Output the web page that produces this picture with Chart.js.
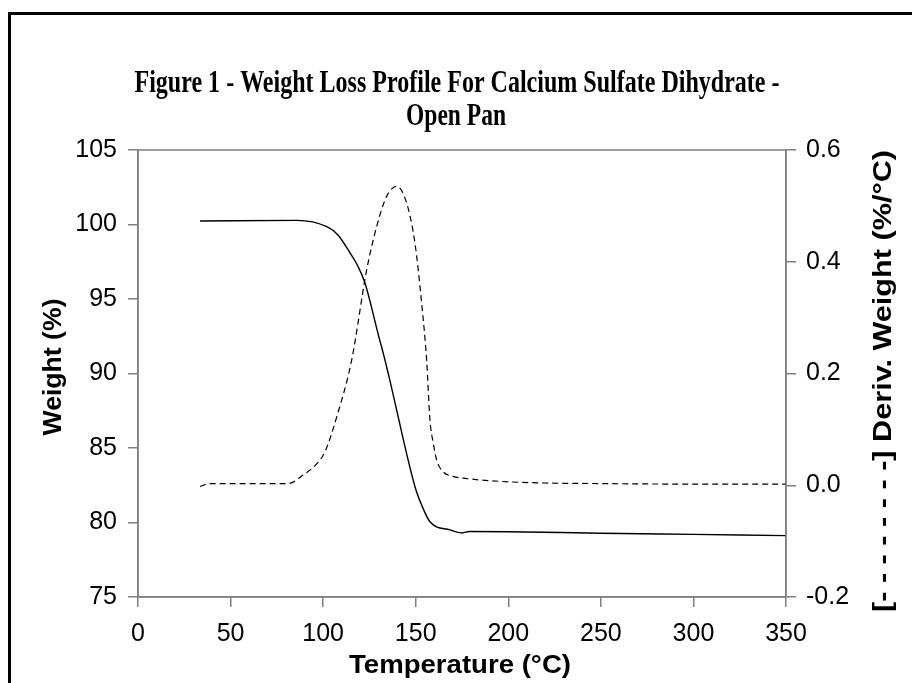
<!DOCTYPE html>
<html lang="en">
<head>
  <meta charset="UTF-8">
  <title>Weight Loss Profile For Calcium Sulfate Dihydrate</title>
  <script src="https://cdn.jsdelivr.net/npm/chart.js"></script>
  <style>
    body {
      margin: 0;
      padding: 0;
      background: #ffffff;
    }
    canvas {
      display: block;
    }
  </style>
</head>
<body>
  <canvas id="tgaChart" width="912" height="683"></canvas>

  <script>
    // weight curve (solid line)
    const weightTemp = [33.5, 86, 102, 108, 114.5, 118.8, 122.6, 129.6, 133.4, 136, 149.6, 153.2, 157.7, 168.5, 175, 179, 200, 250, 300, 350];
    const weightPct  = [100.23, 100.28, 99.85, 99.3, 98.1, 97.2, 96.07, 92.7, 90.9, 89.56, 82.4, 81.17, 80.05, 79.5, 79.3, 79.4, 79.38, 79.28, 79.2, 79.12];

    // derivative curve (dashed line)
    const derivTemp = [33.5, 39, 81, 89, 97, 101, 107.3, 115.4, 123.5, 128.9, 134.3, 139.7, 145.1, 149.6, 153.2, 155.9, 157.7, 159.5, 161.3, 164.9, 170, 177.5, 195.5, 220, 249.5, 300, 350];
    const derivVal  = [-0.002, 0.003, 0.003, 0.018, 0.04, 0.06, 0.122, 0.224, 0.385, 0.463, 0.517, 0.535, 0.505, 0.433, 0.326, 0.224, 0.117, 0.075, 0.045, 0.024, 0.016, 0.012, 0.007, 0.004, 0.003, 0.002, 0.002];

    const titleLines = ['Figure 1 - Weight Loss Profile For Calcium Sulfate Dihydrate -', 'Open Pan'];
    const xTitle = 'Temperature (°C)';
    const yTitle = 'Weight (%)';
    const y2Title = '[- - - - - - - -] Deriv. Weight (%/°C)';

    const axisGray = '#808080';

    function toPoints(xs, ys) {
      return xs.map((x, i) => ({ x: x, y: ys[i] }));
    }

    // draw text squeezed/stretched to a given width
    function fitText(ctx, text, cx, cy, font, width, rot) {
      ctx.save();
      ctx.font = font;
      ctx.fillStyle = '#000';
      ctx.textAlign = 'center';
      ctx.textBaseline = 'alphabetic';
      const w = ctx.measureText(text).width;
      ctx.translate(cx, cy);
      if (rot) ctx.rotate(rot);
      ctx.scale(width / w, 1);
      ctx.fillText(text, 0, 0);
      ctx.restore();
    }

    const decorations = {
      id: 'decorations',
      afterDraw(chart) {
        const ctx = chart.ctx;
        const a = chart.chartArea;

        // outer frame (runs off the right and bottom edge)
        ctx.save();
        ctx.strokeStyle = '#000';
        ctx.lineWidth = 3;
        ctx.strokeRect(9.5, 13.5, 1000, 1000);

        // box round the plot
        ctx.strokeStyle = axisGray;
        ctx.lineWidth = 1.5;
        ctx.strokeRect(a.left, a.top, a.right - a.left, a.bottom - a.top);
        ctx.restore();

        fitText(ctx, titleLines[0], 457, 92, 'bold 31px "Liberation Serif"', 645);
        fitText(ctx, titleLines[1], 456, 125, 'bold 31px "Liberation Serif"', 100);

        fitText(ctx, xTitle, 460, 673, 'bold 26px "Liberation Sans"', 222);
        fitText(ctx, yTitle, 61, 367, 'bold 26px "Liberation Sans"', 137, -Math.PI / 2);
        fitText(ctx, y2Title, 891, 381, 'bold 26px "Liberation Sans"', 462, -Math.PI / 2);
      }
    };

    const ctx = document.getElementById('tgaChart').getContext('2d');

    const chart = new Chart(ctx, {
      type: 'line',
      data: {
        datasets: [
          {
            label: 'Weight',
            data: toPoints(weightTemp, weightPct),
            yAxisID: 'y',
            borderColor: '#000000',
            borderWidth: 1.4,
            pointRadius: 0,
            tension: 0.3,
            cubicInterpolationMode: 'monotone',
            fill: false
          },
          {
            label: 'Deriv. Weight',
            data: toPoints(derivTemp, derivVal),
            yAxisID: 'y2',
            borderColor: '#000000',
            borderWidth: 1.2,
            borderDash: [6, 4],
            pointRadius: 0,
            cubicInterpolationMode: 'monotone',
            fill: false
          }
        ]
      },
      options: {
        responsive: false,
        animation: false,
        layout: {
          padding: { top: 150, left: 0, right: 0, bottom: 0 }
        },
        scales: {
          x: {
            type: 'linear',
            min: 0,
            max: 350,
            afterFit: (s) => { s.height = 86; },
            ticks: {
              stepSize: 50,
              padding: 12,
              color: '#000',
              font: { family: '"Liberation Sans"', size: 25 }
            },
            grid: { drawOnChartArea: false, tickLength: 10, color: axisGray, lineWidth: 1.5 },
            border: { color: axisGray, width: 1.5 }
          },
          y: {
            position: 'left',
            min: 75,
            max: 105,
            afterFit: (s) => { s.width = 138; },
            ticks: {
              stepSize: 5,
              padding: 11,
              color: '#000',
              font: { family: '"Liberation Sans"', size: 25 }
            },
            grid: { drawOnChartArea: false, tickLength: 10, color: axisGray, lineWidth: 1.5 },
            border: { color: axisGray, width: 1.5 }
          },
          y2: {
            position: 'right',
            min: -0.2,
            max: 0.6,
            afterFit: (s) => { s.width = 126; },
            ticks: {
              stepSize: 0.2,
              padding: 10,
              color: '#000',
              font: { family: '"Liberation Sans"', size: 25 },
              callback: (v) => v.toFixed(1)
            },
            grid: { drawOnChartArea: false, tickLength: 10, color: axisGray, lineWidth: 1.5 },
            border: { color: axisGray, width: 1.5 }
          }
        },
        plugins: {
          legend: { display: false },
          tooltip: { enabled: false }
        }
      },
      plugins: [decorations]
    });
  </script>
</body>
</html>
